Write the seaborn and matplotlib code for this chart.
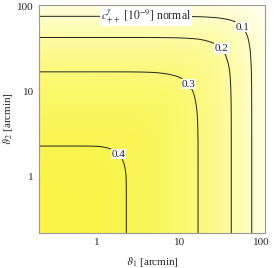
import numpy as np
import matplotlib
matplotlib.use("Agg")
import matplotlib.pyplot as plt
import seaborn as sns

# radial profile (arcmin -> value, 1e-9)
theta_prof = [0.2, 0.6, 1.0, 2.3, 5.0, 10.0, 17.0, 30.0, 43.0, 60.0, 76.0, 110.0]
g_prof = [0.425, 0.42, 0.415, 0.40, 0.37, 0.335, 0.30, 0.245, 0.20, 0.145, 0.10, 0.04]
levels = [0.1, 0.2, 0.3, 0.4]
label_pos = [(64, 62), (38, 37), (14.3, 13.5), (1.8, 1.8)]

sns.set_style("ticks")
plt.rcParams["font.family"] = ["Liberation Serif", "DejaVu Serif"]
plt.rcParams["mathtext.fontset"] = "stix"

fig = plt.figure(figsize=(2.74, 2.68), dpi=100)
ax = fig.add_axes([0.142, 0.131, 0.825, 0.85])

t = np.logspace(np.log10(0.2), np.log10(110), 400)
g = np.interp(np.log10(t), np.log10(theta_prof), g_prof)
g0 = g_prof[0]
d = g0 - g
D1, D2 = np.meshgrid(d, d)
p = 4.0
Z = g0 - (D1 ** p + D2 ** p) ** (1 / p)

cmap = sns.blend_palette(["#ffffee", "#fdfca0", "#f8f448"], as_cmap=True)
ax.pcolormesh(t, t, Z, cmap=cmap, vmin=0.0, vmax=0.42, shading="auto", rasterized=True)
cs = ax.contour(t, t, Z, levels=levels, colors="#222222", linewidths=0.7)
lbls = ax.clabel(cs, fmt="%.1f", fontsize=8, manual=label_pos, inline=False)
for l in lbls:
    l.set_rotation(0)
    l.set_bbox(dict(facecolor="white", edgecolor="none", pad=0.5))

ax.set_xscale("log")
ax.set_yscale("log")
ax.set_xlim(0.2, 110)
ax.set_ylim(0.22, 103)
ax.set_xticks([1, 10, 100])
ax.set_xticklabels(["1", "10", "100"])
ax.set_yticks([1, 10, 100])
ax.set_yticklabels(["1", "10", "100"])
ax.tick_params(which="both", direction="in", labelsize=8, color="#555555")
ax.tick_params(which="major", length=4, width=0.6)
ax.tick_params(which="minor", length=2, width=0.5)
for s in ax.spines.values():
    s.set_color("#999999")
    s.set_linewidth(0.8)

ax.set_xlabel(r"$\vartheta_1$ [arcmin]", fontsize=8, labelpad=6)
ax.set_ylabel(r"$\vartheta_2$ [arcmin]", fontsize=8, labelpad=2)

ax.text(4.0, 76, r"$c_{++}^{\gamma}$ $\left[10^{-9}\right]$ normal", fontsize=8.5,
        ha="center", va="center",
        bbox=dict(facecolor="white", edgecolor="none", pad=0.5))

fig.savefig("out.png", dpi=100)
